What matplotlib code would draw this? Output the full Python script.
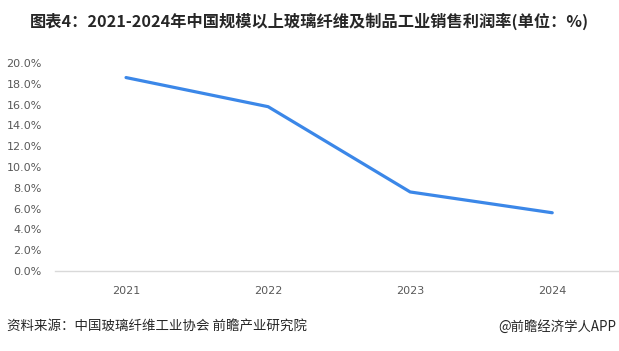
import matplotlib
matplotlib.use("Agg")
import matplotlib.pyplot as plt
from matplotlib.ticker import FuncFormatter

plt.rcParams['font.family'] = ['Noto Sans CJK SC', 'DejaVu Sans']

years = ['2021', '2022', '2023', '2024']
values = [18.6, 15.8, 7.6, 5.6]
title = '图表4：2021-2024年中国规模以上玻璃纤维及制品工业销售利润率(单位：%)'
source = '资料来源：中国玻璃纤维工业协会 前瞻产业研究院'
brand = '@前瞻经济学人APP'

W, H = 619, 351
fig = plt.figure(figsize=(W/100, H/100), dpi=100)
ax = fig.add_axes([55/W, 1-271/H, (619-55)/W, (271-63)/H])

x = list(range(len(years)))
ax.plot(x, values, color='#3b87e8', linewidth=2.3, solid_capstyle='round')
ax.set_xlim(-0.5, 3.47)
ax.set_ylim(0, 20)
ax.set_yticks([i*2 for i in range(11)])
ax.yaxis.set_major_formatter(FuncFormatter(lambda v, p: f'{v:.1f}%'))
ax.set_xticks(x)
ax.set_xticklabels(years)
for s in ['top', 'right', 'left']:
    ax.spines[s].set_visible(False)
ax.spines['bottom'].set_color('#d9d9d9')
ax.spines['bottom'].set_linewidth(1)
ax.tick_params(axis='both', length=0, colors='#595959', labelsize=8)
ax.tick_params(axis='y', pad=9.4)
ax.tick_params(axis='x', pad=11)
for lab in ax.get_yticklabels() + ax.get_xticklabels():
    lab.set_family(['DejaVu Sans'])
    lab.set_fontsize(8)

fig.text(309/W, 1-21/H, title, ha='center', va='center', fontsize=11.7, fontweight='bold', color='#262626')
fig.text(7/W, 1-327/H, source, ha='left', va='center', fontsize=9.7, color='#262626')
fig.text(616/W, 1-327/H, brand, ha='right', va='center', fontsize=9.6, color='#262626')

fig.savefig('out.png', dpi=100)
